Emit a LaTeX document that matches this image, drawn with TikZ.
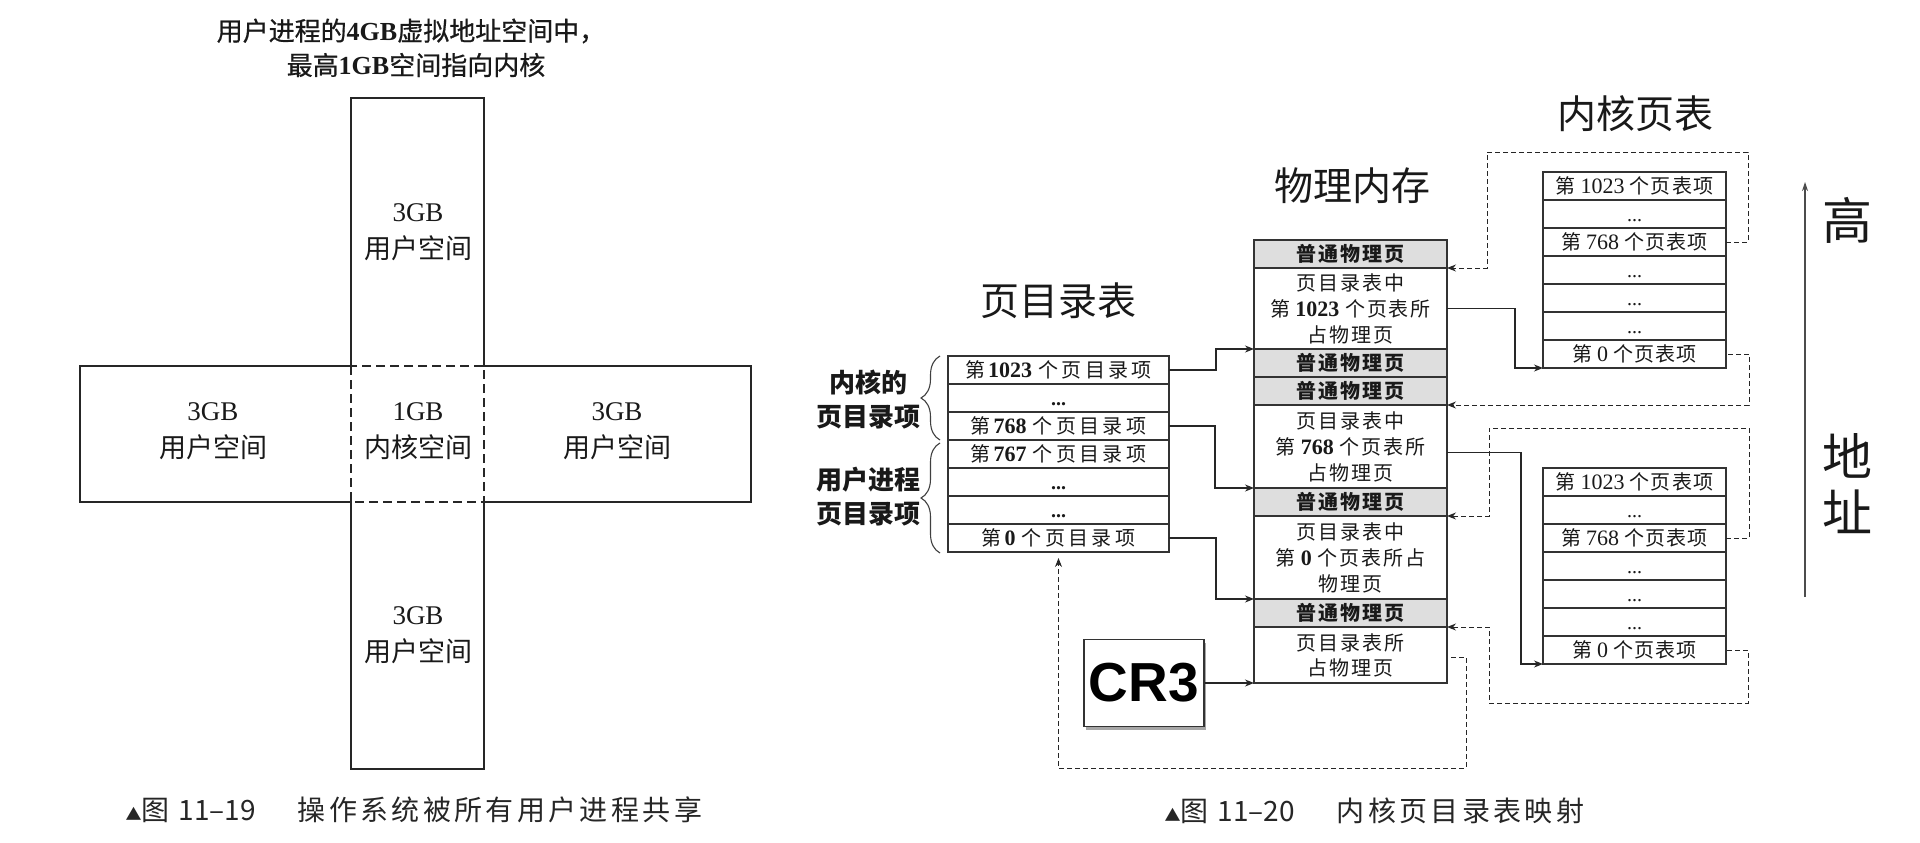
\documentclass[tikz,border=0pt]{standalone}
\usepackage{fontspec}
\setmainfont{Liberation Serif}
\newfontfamily\crfont{Liberation Sans}
\newfontfamily\zh{Noto Sans CJK SC}
\newfontfamily\zhmed{Noto Sans CJK SC}[FakeBold=0.7]
\newfontfamily\zhpd{Noto Sans CJK SC}[LetterSpace=17]
\newfontfamily\zhpm{Noto Sans CJK SC}[LetterSpace=9]
\newfontfamily\zhpt{Noto Sans CJK SC}[LetterSpace=6]
\newfontfamily\zhcap{Noto Sans CJK SC}[LetterSpace=12]
\usetikzlibrary{arrows.meta,shadows,decorations.pathreplacing}

\newcommand\fsz[1]{\fontsize{#1}{#1}\selectfont}
% page-directory entry: "第 n 个页目录项"
\newcommand\pdent[1]{{\zhpd 第}\hspace{3pt}{\fsz{22}\bfseries #1}\hspace{6pt}{\zhpd 个页目录项}}
% page-table entry: "第 n 个页表项"
\newcommand\ptent[1]{{\zhpt 第}\hspace{5pt}{\fsz{22}#1}\hspace{5pt}{\zhpt 个页表项}}
% number inside a physical-memory block
\newcommand\pmnum[1]{\hspace{5pt}{\fontsize{22}{26}\selectfont\bfseries #1}\hspace{6pt}}
% caption figure number, set without tracking
\newcommand\capnum[1]{{\zh\hspace{9pt}#1}}

\begin{document}
\begin{tikzpicture}[x=1pt,y=-1pt,
  crossline/.style={draw=black!85, line width=1.3pt},
  crossdash/.style={draw=black!85, line width=1.3pt, dash pattern=on 9pt off 5pt},
  boxtxt/.style={align=center, font=\fontsize{27}{37}\selectfont, text=black!90},
  lefttitle/.style={font=\fontsize{26}{30}\selectfont, text=black!90},
  pdrow/.style={draw=black!80, line width=1.2pt, minimum width=221pt, minimum height=28pt,
    inner sep=0pt, outer sep=0pt, text height=17pt, text depth=3pt,
    font=\fontsize{20}{24}\selectfont, text=black!90},
  pmcell/.style={draw=black!80, line width=1.2pt, minimum width=193pt, inner sep=0pt,
    outer sep=0pt, align=center, font=\fontsize{20}{26}\selectfont, text=black!90},
  pmgray/.style={pmcell, fill=black!13, minimum height=28pt},
  ptrow/.style={draw=black!80, line width=1.2pt, minimum width=183pt, minimum height=28pt,
    inner sep=0pt, outer sep=0pt, text height=17pt, text depth=3pt,
    font=\fontsize{20}{24}\selectfont, text=black!90},
  link/.style={draw=black!85, line width=1.2pt, -{Stealth[length=9pt,width=7pt]}},
  dlink/.style={link, line width=1pt, dash pattern=on 5pt off 3pt},
  heading/.style={font=\zh\fontsize{39}{45}\selectfont, text=black!90},
  axislabel/.style={font=\zh\fontsize{50}{55}\selectfont, text=black!90},
  bracelabel/.style={align=center, font=\zh\bfseries\fontsize{26}{34}\selectfont, text=black!90},
  curly/.style={draw=black!75, line width=1.1pt, decorate,
    decoration={brace, amplitude=19pt, aspect=0.5}},
  caption/.style={anchor=west, font=\zhcap\fontsize{28}{32}\selectfont, text=black!85},
]
\useasboundingbox (0,0) rectangle (1920,843);

% ---------- left figure: the shared 1GB kernel space ----------
\node[lefttitle] (t1) at (411,31) {{\zhmed 用户进程的}\textbf{4GB}{\zhmed 虚拟地址空间中，}};
\node[lefttitle] (t2) at (416,65) {{\zhmed 最高}\textbf{1GB}{\zhmed 空间指向内核}};

\draw[crossline] (351,98) -- (484,98) -- (484,366) -- (751,366) -- (751,502) -- (484,502)
  -- (484,769) -- (351,769) -- (351,502) -- (80,502) -- (80,366) -- (351,366) -- cycle;
\draw[crossdash] (351,366) rectangle (484,502);

\node[boxtxt] (utop)   at (418,232) {3GB\\{\zh 用户空间}};
\node[boxtxt] (uleft)  at (213,431) {3GB\\{\zh 用户空间}};
\node[boxtxt] (kmid)   at (418,431) {1GB\\{\zh 内核空间}};
\node[boxtxt] (uright) at (617,431) {3GB\\{\zh 用户空间}};
\node[boxtxt] (ubot)   at (418,635) {3GB\\{\zh 用户空间}};

\node[caption] (cap1) at (122,810) {{\fontsize{16}{20}\selectfont ▲}图\capnum{11–19}\hspace{42pt}操作系统被所有用户进程共享};

% ---------- right figure: kernel page-directory mapping ----------
\node[heading] (pdttl) at (1058,301) {页目录表};
\node[heading] (pmttl) at (1352,186) {物理内存};
\node[heading] (ktttl) at (1635,114) {内核页表};

% page directory
\node[pdrow] (pd1) at (1058.5,370) {\pdent{1023}};
\node[pdrow] (pd2) at (1058.5,398) {\textbf{...}};
\node[pdrow] (pd3) at (1058.5,426) {\pdent{768}};
\node[pdrow] (pd4) at (1058.5,454) {\pdent{767}};
\node[pdrow] (pd5) at (1058.5,482) {\textbf{...}};
\node[pdrow] (pd6) at (1058.5,510) {\textbf{...}};
\node[pdrow] (pd7) at (1058.5,538) {\pdent{0}};

\draw[curly] ([xshift=-8pt]pd3.south west) -- ([xshift=-8pt]pd1.north west);
\draw[curly] ([xshift=-8pt,yshift=-1pt]pd7.south west) -- ([xshift=-8pt,yshift=-3pt]pd4.north west);
\node[bracelabel] (klab) at (868,400) {内核的\\页目录项};
\node[bracelabel] (ulab) at (868,497) {用户进程\\页目录项};

% physical memory
\node[pmgray] (m1) at (1350.5,254) {{\zhpm\bfseries 普通物理页}};
\node[pmcell, minimum height=81pt] (m2) at (1350.5,308.5)
  {{\zhpm 页目录表中}\\{\zhpm 第}\pmnum{1023}{\zhpm 个页表所}\\{\zhpm 占物理页}};
\node[pmgray] (m3) at (1350.5,363) {{\zhpm\bfseries 普通物理页}};
\node[pmgray] (m4) at (1350.5,391) {{\zhpm\bfseries 普通物理页}};
\node[pmcell, minimum height=83pt] (m5) at (1350.5,446.5)
  {{\zhpm 页目录表中}\\{\zhpm 第}\pmnum{768}{\zhpm 个页表所}\\{\zhpm 占物理页}};
\node[pmgray] (m6) at (1350.5,502) {{\zhpm\bfseries 普通物理页}};
\node[pmcell, minimum height=83pt] (m7) at (1350.5,557.5)
  {{\zhpm 页目录表中}\\{\zhpm 第}\pmnum{0}{\zhpm 个页表所占}\\{\zhpm 物理页}};
\node[pmgray] (m8) at (1350.5,613) {{\zhpm\bfseries 普通物理页}};
\node[pmcell, minimum height=56pt, font=\fontsize{20}{25}\selectfont] (m9) at (1350.5,655)
  {{\zhpm 页目录表所}\\{\zhpm 占物理页}};

% kernel page tables
\node[ptrow] (kt1) at (1634.5,186) {\ptent{1023}};
\node[ptrow] (kt2) at (1634.5,214) {...};
\node[ptrow] (kt3) at (1634.5,242) {\ptent{768}};
\node[ptrow] (kt4) at (1634.5,270) {...};
\node[ptrow] (kt5) at (1634.5,298) {...};
\node[ptrow] (kt6) at (1634.5,326) {...};
\node[ptrow] (kt7) at (1634.5,354) {\ptent{0}};

\node[ptrow] (kb1) at (1634.5,482) {\ptent{1023}};
\node[ptrow] (kb2) at (1634.5,510) {...};
\node[ptrow] (kb3) at (1634.5,538) {\ptent{768}};
\node[ptrow] (kb4) at (1634.5,566) {...};
\node[ptrow] (kb5) at (1634.5,594) {...};
\node[ptrow] (kb6) at (1634.5,622) {...};
\node[ptrow] (kb7) at (1634.5,650) {\ptent{0}};

% CR3 register
\node[draw=black!80, line width=1.2pt, fill=white, minimum width=120pt, minimum height=87pt,
  inner sep=0pt, font=\crfont\bfseries\fontsize{55}{60}\selectfont,
  drop shadow={shadow xshift=1.5pt, shadow yshift=-3pt, fill=black, opacity=0.35}]
  (cr3) at (1144,683) {CR3};

% solid links
\draw[link] (pd1.east) -- ++(47,0) |- (m2.south west);
\draw[link] (pd3.east) -- ++(46,0) |- (m5.south west);
\draw[link] (pd7.east) -- ++(47,0) |- (m7.south west);
\draw[link] (cr3.east) -- (m9.south west);
\draw[link] (m2.east) -- ++(68,0) |- (kt7.south west);
\draw[link] ([yshift=-6pt]m5.east) -- ++(74,0) |- (kb7.south west);

% dashed links
\coordinate (d1a) at (1466,768);
\draw[dlink] ([xshift=4pt,yshift=-2pt]m9.east) -| (d1a) -| ([yshift=-6pt]pd7.south);
\coordinate (d2a) at (1748,152);
\coordinate (d2b) at (1487,268);
\draw[dlink] (kt3.east) -| (d2a) -| (d2b) -- (m1.south east);
\coordinate (d3a) at (1749,405);
\draw[dlink] ([xshift=2pt]kt7.east) -| (d3a) -- (m4.south east);
\coordinate (d4a) at (1749,428);
\coordinate (d4b) at (1489,516);
\draw[dlink] (kb3.east) -| (d4a) -| (d4b) -- (m6.south east);
\coordinate (d5a) at (1748,703);
\coordinate (d5b) at (1489,627);
\draw[dlink] ([xshift=1pt]kb7.east) -| (d5a) -| (d5b) -- (m8.south east);

% address direction
\coordinate (addrlo) at (1805,597);
\coordinate (addrhi) at (1805,182);
\draw[draw=black!70, line width=1.2pt, -{Stealth[length=9pt,width=6pt]}] (addrlo) -- (addrhi);
\node[axislabel] (hi) at (1847,220) {高};
\node[axislabel] (di) at (1847,456) {地};
\node[axislabel] (zhi) at (1847,512) {址};

\node[caption] (cap2) at (1161,811) {{\fontsize{16}{20}\selectfont ▲}图\capnum{11–20}\hspace{42pt}内核页目录表映射};
\end{tikzpicture}
\end{document}
